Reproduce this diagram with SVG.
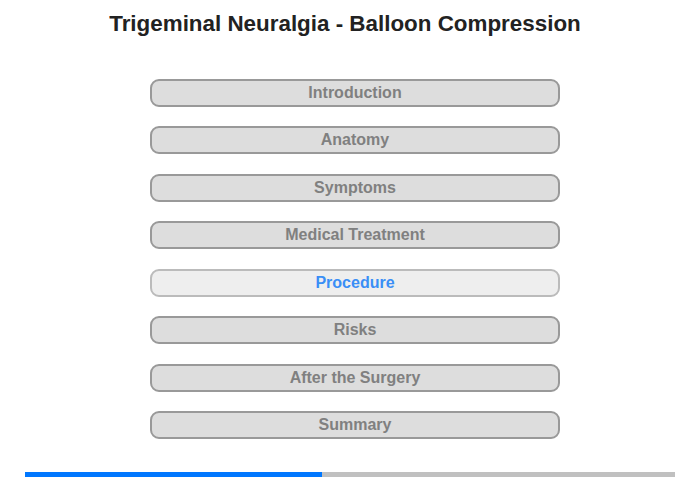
<svg xmlns="http://www.w3.org/2000/svg" width="700" height="480" viewBox="0 0 700 480">
<style>
.btn rect{fill:#dddddd;stroke:#999999;stroke-width:2}
.btn text{font-family:"Liberation Sans",Arial,sans-serif;font-weight:bold;font-size:16px;fill:#808080;text-anchor:middle}
.cur rect{fill:#eeeeee;stroke:#bbbbbb}
.cur text{fill:#3a8ef6}
.title{font-family:"Liberation Sans",Arial,sans-serif;font-weight:bold;font-size:22.4px;fill:#222222;text-anchor:middle}
</style>
<rect width="700" height="480" fill="#ffffff"/>
<text class="title" x="345" y="31">Trigeminal Neuralgia - Balloon Compression</text>
<g id="introduction" class="btn"><rect x="151" y="80" width="408" height="26" rx="8"/><text x="355" y="98">Introduction</text></g>
<g id="anatomy" class="btn"><rect x="151" y="127" width="408" height="26" rx="8"/><text x="355" y="145">Anatomy</text></g>
<g id="symptoms" class="btn"><rect x="151" y="175" width="408" height="26" rx="8"/><text x="355" y="193">Symptoms</text></g>
<g id="medical-treatment" class="btn"><rect x="151" y="222" width="408" height="26" rx="8"/><text x="355" y="240">Medical Treatment</text></g>
<g id="procedure" class="btn cur"><rect x="151" y="270" width="408" height="26" rx="8"/><text x="355" y="288">Procedure</text></g>
<g id="risks" class="btn"><rect x="151" y="317" width="408" height="26" rx="8"/><text x="355" y="335">Risks</text></g>
<g id="after-the-surgery" class="btn"><rect x="151" y="365" width="408" height="26" rx="8"/><text x="355" y="383">After the Surgery</text></g>
<g id="summary" class="btn"><rect x="151" y="412" width="408" height="26" rx="8"/><text x="355" y="430">Summary</text></g>
<g id="progress">
<rect x="25" y="472" width="650" height="5" fill="#c0c0c0"/>
<rect x="25" y="472" width="297" height="5" fill="#0077ff"/>
</g>
</svg>
